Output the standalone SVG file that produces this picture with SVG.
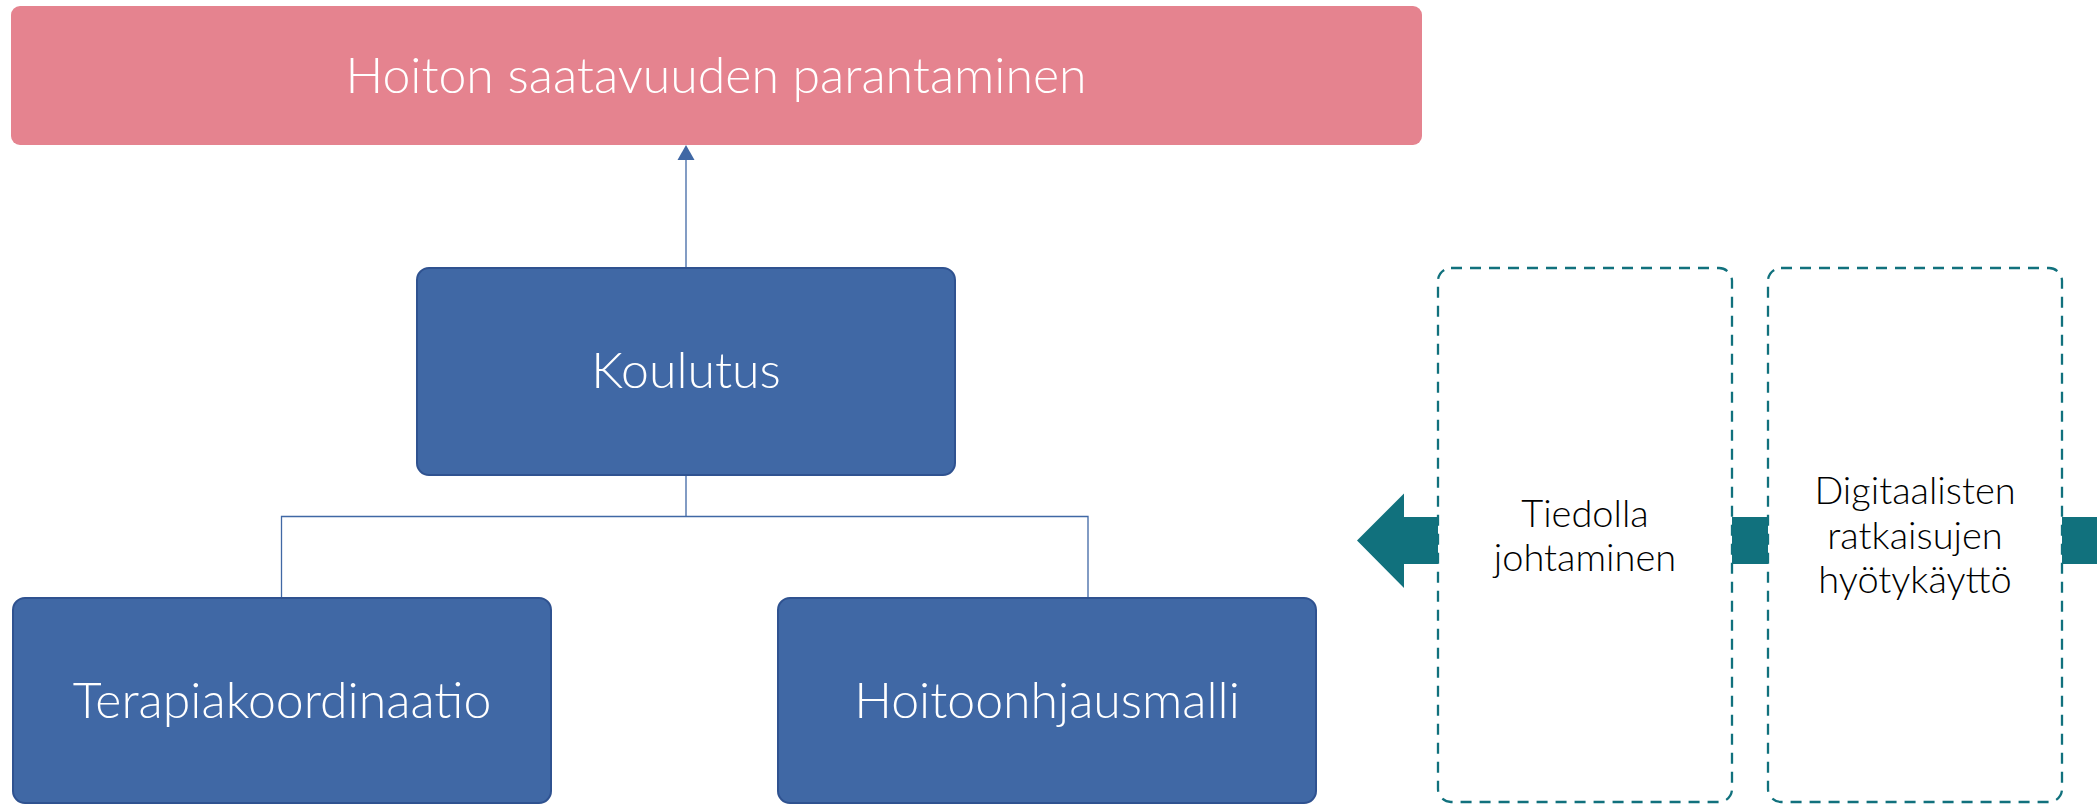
<svg xmlns="http://www.w3.org/2000/svg" width="2097" height="805" viewBox="0 0 2097 805">
<style>
.blue{fill:#4068A5;stroke:#2F5290;stroke-width:2}
.wt{fill:#FFFFFF;font-family:Lato,"Noto Sans","Liberation Sans",sans-serif;font-weight:300;font-size:50px;text-anchor:middle}
.bt{fill:#000000;font-family:Lato,"Noto Sans","Liberation Sans",sans-serif;font-weight:300;font-size:38px;text-anchor:middle}
.dash{fill:none;stroke:#11717D;stroke-width:2.3;stroke-dasharray:11 8}
.teal{fill:#11717D}
.conn{fill:none;stroke:#4068A5;stroke-width:1.3}
</style>
<g id="connectors">
<line class="conn" x1="686" y1="267" x2="686" y2="150"/>
<path d="M677.5,160 L686,145 L694.5,160 Z" fill="#4068A5"/>
<path class="conn" d="M686,475 V516.5 M281.5,597.5 V516.5 H1088 V597.5"/>
<path class="teal" d="M1357,540.5 L1404,493.5 L1404,517 L1438,517 L1438,564 L1404,564 L1404,588 Z"/>
<rect class="teal" x="1732" y="517" width="36" height="47"/>
<rect class="teal" x="2062" y="517" width="35" height="47"/>
</g>
<g id="goal">
<rect x="11" y="6" width="1411" height="139" rx="9" fill="#E5838F"/>
<text class="wt" x="716" y="93">Hoiton saatavuuden parantaminen</text>
</g>
<g id="koulutus">
<rect class="blue" x="417" y="268" width="538" height="207" rx="12"/>
<text class="wt" x="686" y="388">Koulutus</text>
</g>
<g id="terapiakoordinaatio">
<rect class="blue" x="13" y="598" width="538" height="205" rx="12"/>
<text class="wt" x="282" y="718">Terapiakoordinaatio</text>
</g>
<g id="hoitoonhjausmalli">
<rect class="blue" x="778" y="598" width="538" height="205" rx="12"/>
<text class="wt" x="1047" y="718">Hoitoonhjausmalli</text>
</g>
<g id="tiedolla">
<rect class="dash" x="1438" y="268" width="294" height="534" rx="13"/>
<text class="bt" x="1585" y="526.5">Tiedolla</text>
<text class="bt" x="1585" y="570.5">johtaminen</text>
</g>
<g id="digitaalisten">
<rect class="dash" x="1768" y="268" width="294" height="534" rx="13"/>
<text class="bt" x="1915" y="504">Digitaalisten</text>
<text class="bt" x="1915" y="548.5">ratkaisujen</text>
<text class="bt" x="1915" y="592.5">hyötykäyttö</text>
</g>
</svg>
